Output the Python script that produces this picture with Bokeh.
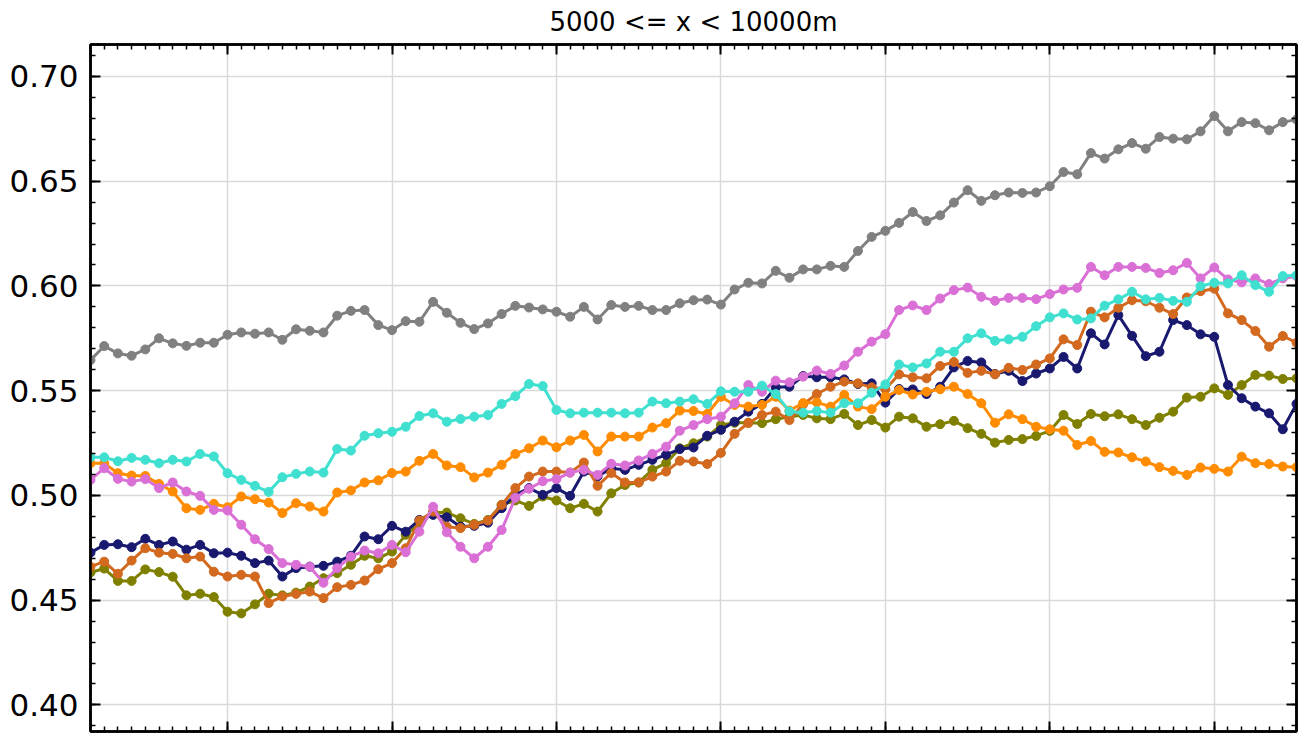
from bokeh.plotting import figure
from bokeh.models import (ColumnDataSource, Range1d, FixedTicker, LinearAxis,
                          PrintfTickFormatter, CustomLabelingPolicy)
from bokeh.embed import file_html
from bokeh.resources import INLINE

title_text = "5000 <= x < 10000m"

months = list(range(89))

gray_vals = [0.5646, 0.5713, 0.5678, 0.5667, 0.5697, 0.5750, 0.5726, 0.5714, 0.5729, 0.5729,
             0.5767, 0.5778, 0.5772, 0.5778, 0.5743, 0.5793, 0.5786, 0.5778, 0.5858, 0.5881,
             0.5885, 0.5813, 0.5789, 0.5832, 0.5829, 0.5924, 0.5872, 0.5824, 0.5794, 0.5821,
             0.5866, 0.5905, 0.5897, 0.5888, 0.5877, 0.5853, 0.5900, 0.5840, 0.5909, 0.5900,
             0.5905, 0.5885, 0.5885, 0.5917, 0.5932, 0.5935, 0.5911, 0.5983, 0.6015, 0.6012,
             0.6072, 0.6039, 0.6079, 0.6079, 0.6096, 0.6091, 0.6167, 0.6234, 0.6263, 0.6301,
             0.6353, 0.6310, 0.6337, 0.6398, 0.6457, 0.6406, 0.6433, 0.6446, 0.6444, 0.6446,
             0.6476, 0.6544, 0.6533, 0.6634, 0.6608, 0.6652, 0.6682, 0.6655, 0.6711, 0.6703,
             0.6700, 0.6738, 0.6811, 0.6738, 0.6782, 0.6777, 0.6743, 0.6782, 0.6794]

turquoise_vals = [0.5182, 0.5182, 0.5163, 0.5179, 0.5170, 0.5154, 0.5170, 0.5162, 0.5198, 0.5186,
                  0.5106, 0.5074, 0.5046, 0.5017, 0.5087, 0.5103, 0.5114, 0.5109, 0.5222, 0.5214,
                  0.5285, 0.5297, 0.5304, 0.5328, 0.5379, 0.5392, 0.5352, 0.5365, 0.5376, 0.5384,
                  0.5437, 0.5474, 0.5532, 0.5522, 0.5408, 0.5392, 0.5395, 0.5395, 0.5395, 0.5392,
                  0.5395, 0.5448, 0.5440, 0.5448, 0.5459, 0.5437, 0.5497, 0.5495, 0.5495, 0.5524,
                  0.5484, 0.5401, 0.5395, 0.5403, 0.5395, 0.5440, 0.5440, 0.5490, 0.5530, 0.5625,
                  0.5611, 0.5630, 0.5686, 0.5686, 0.5750, 0.5774, 0.5738, 0.5745, 0.5757, 0.5808,
                  0.5850, 0.5869, 0.5840, 0.5845, 0.5906, 0.5936, 0.5972, 0.5936, 0.5943, 0.5929,
                  0.5924, 0.5999, 0.6015, 0.6012, 0.6051, 0.6004, 0.5972, 0.6047, 0.6051]

orchid_vals = [0.5074, 0.5130, 0.5079, 0.5066, 0.5078, 0.5035, 0.5062, 0.5019, 0.4998, 0.4931,
               0.4928, 0.4860, 0.4791, 0.4744, 0.4677, 0.4669, 0.4660, 0.4583, 0.4653, 0.4708,
               0.4737, 0.4724, 0.4764, 0.4729, 0.4827, 0.4946, 0.4824, 0.4755, 0.4700, 0.4755,
               0.4835, 0.4989, 0.5032, 0.5068, 0.5078, 0.5109, 0.5122, 0.5098, 0.5151, 0.5143,
               0.5167, 0.5198, 0.5233, 0.5309, 0.5336, 0.5364, 0.5376, 0.5440, 0.5527, 0.5495,
               0.5548, 0.5540, 0.5567, 0.5596, 0.5580, 0.5620, 0.5686, 0.5734, 0.5770, 0.5885,
               0.5907, 0.5885, 0.5940, 0.5980, 0.5992, 0.5948, 0.5929, 0.5943, 0.5943, 0.5937,
               0.5961, 0.5983, 0.5991, 0.6091, 0.6051, 0.6091, 0.6091, 0.6086, 0.6062, 0.6075,
               0.6110, 0.6036, 0.6088, 0.6031, 0.6017, 0.6036, 0.6009, 0.6036, 0.6047]

orange_vals = [0.5154, 0.5154, 0.5106, 0.5095, 0.5093, 0.5055, 0.5019, 0.4939, 0.4931, 0.4960,
               0.4944, 0.4995, 0.4982, 0.4966, 0.4916, 0.4963, 0.4947, 0.4923, 0.5014, 0.5024,
               0.5062, 0.5072, 0.5107, 0.5114, 0.5165, 0.5198, 0.5143, 0.5135, 0.5086, 0.5109,
               0.5146, 0.5198, 0.5225, 0.5262, 0.5230, 0.5262, 0.5289, 0.5210, 0.5281, 0.5281,
               0.5281, 0.5324, 0.5345, 0.5405, 0.5403, 0.5389, 0.5471, 0.5432, 0.5424, 0.5432,
               0.5471, 0.5405, 0.5441, 0.5444, 0.5424, 0.5480, 0.5424, 0.5412, 0.5471, 0.5503,
               0.5482, 0.5495, 0.5507, 0.5519, 0.5484, 0.5440, 0.5347, 0.5387, 0.5364, 0.5328,
               0.5316, 0.5309, 0.5241, 0.5260, 0.5208, 0.5205, 0.5182, 0.5162, 0.5135, 0.5117,
               0.5098, 0.5133, 0.5127, 0.5114, 0.5185, 0.5154, 0.5150, 0.5138, 0.5135]

navy_vals = [0.4727, 0.4764, 0.4767, 0.4753, 0.4793, 0.4764, 0.4780, 0.4741, 0.4764, 0.4724,
             0.4727, 0.4712, 0.4677, 0.4689, 0.4613, 0.4653, 0.4660, 0.4664, 0.4684, 0.4712,
             0.4804, 0.4791, 0.4855, 0.4827, 0.4883, 0.4907, 0.4896, 0.4851, 0.4855, 0.4870,
             0.4939, 0.5003, 0.5035, 0.5003, 0.5035, 0.4998, 0.5114, 0.5091, 0.5130, 0.5122,
             0.5146, 0.5170, 0.5194, 0.5221, 0.5229, 0.5285, 0.5313, 0.5352, 0.5400, 0.5437,
             0.5516, 0.5519, 0.5570, 0.5564, 0.5564, 0.5554, 0.5532, 0.5535, 0.5443, 0.5508,
             0.5506, 0.5484, 0.5519, 0.5611, 0.5642, 0.5635, 0.5580, 0.5595, 0.5546, 0.5582,
             0.5606, 0.5661, 0.5606, 0.5774, 0.5721, 0.5861, 0.5762, 0.5665, 0.5686, 0.5837,
             0.5813, 0.5769, 0.5757, 0.5527, 0.5464, 0.5424, 0.5392, 0.5316, 0.5437]

chocolate_vals = [0.4660, 0.4684, 0.4626, 0.4689, 0.4748, 0.4727, 0.4721, 0.4700, 0.4708, 0.4636,
                  0.4613, 0.4621, 0.4613, 0.4486, 0.4518, 0.4530, 0.4541, 0.4510, 0.4562, 0.4573,
                  0.4594, 0.4648, 0.4677, 0.4748, 0.4880, 0.4923, 0.4851, 0.4844, 0.4860, 0.4880,
                  0.4955, 0.5035, 0.5090, 0.5114, 0.5114, 0.5109, 0.5157, 0.5046, 0.5107, 0.5062,
                  0.5062, 0.5090, 0.5114, 0.5165, 0.5162, 0.5150, 0.5203, 0.5294, 0.5346, 0.5384,
                  0.5400, 0.5360, 0.5435, 0.5484, 0.5519, 0.5543, 0.5535, 0.5516, 0.5507, 0.5578,
                  0.5564, 0.5559, 0.5618, 0.5637, 0.5585, 0.5595, 0.5578, 0.5609, 0.5599, 0.5625,
                  0.5654, 0.5745, 0.5718, 0.5877, 0.5850, 0.5896, 0.5932, 0.5927, 0.5896, 0.5866,
                  0.5945, 0.5975, 0.5987, 0.5869, 0.5837, 0.5785, 0.5710, 0.5761, 0.5729]

olive_vals = [0.4632, 0.4651, 0.4592, 0.4592, 0.4647, 0.4634, 0.4612, 0.4523, 0.4531, 0.4515,
              0.4445, 0.4437, 0.4480, 0.4531, 0.4523, 0.4536, 0.4565, 0.4605, 0.4629, 0.4669,
              0.4712, 0.4700, 0.4732, 0.4812, 0.4864, 0.4918, 0.4918, 0.4891, 0.4864, 0.4883,
              0.4955, 0.4976, 0.4950, 0.4995, 0.4976, 0.4939, 0.4960, 0.4923, 0.5010, 0.5050,
              0.5062, 0.5122, 0.5154, 0.5225, 0.5249, 0.5281, 0.5336, 0.5347, 0.5347, 0.5345,
              0.5364, 0.5376, 0.5384, 0.5368, 0.5364, 0.5389, 0.5336, 0.5360, 0.5324, 0.5376,
              0.5368, 0.5328, 0.5340, 0.5356, 0.5321, 0.5294, 0.5252, 0.5265, 0.5269, 0.5284,
              0.5308, 0.5384, 0.5341, 0.5389, 0.5378, 0.5387, 0.5364, 0.5336, 0.5371, 0.5400,
              0.5467, 0.5471, 0.5511, 0.5480, 0.5527, 0.5575, 0.5572, 0.5556, 0.5559]

x_major = [10, 22, 34, 46, 58, 70, 82]
y_major = [0.40, 0.45, 0.50, 0.55, 0.60, 0.65, 0.70]
y_minor = [round(0.38 + 0.01 * k, 2) for k in range(35)]

series = [
    (gray_vals, "#808080"),
    (olive_vals, "#808000"),
    (navy_vals, "#191970"),
    (chocolate_vals, "#D2691E"),
    (orange_vals, "#FF8C00"),
    (orchid_vals, "#DA70D6"),
    (turquoise_vals, "#40E0D0"),
]

p = figure(width=1305, height=735, output_backend="svg", toolbar_location=None,
           x_range=Range1d(0, 88), y_range=Range1d(0.38732, 0.71525),
           x_axis_location=None, y_axis_location=None,
           min_border_left=90, min_border_right=9, min_border_top=44, min_border_bottom=0)

p.title.text = title_text
p.title.align = "center"
p.title.text_font = "DejaVu Sans"
p.title.text_font_size = "26px"
p.title.text_font_style = "normal"
p.title.text_color = "black"
p.title.standoff = 7

xt = FixedTicker(ticks=x_major, minor_ticks=months)
yt = FixedTicker(ticks=y_major, minor_ticks=y_minor)


def style_axis(ax, labels):
    ax.axis_line_color = "black"
    ax.axis_line_width = 2.5
    ax.major_tick_in = 10
    ax.major_tick_out = 0
    ax.minor_tick_in = 5
    ax.minor_tick_out = 0
    ax.major_tick_line_color = "black"
    ax.major_tick_line_width = 2
    ax.minor_tick_line_color = "black"
    ax.minor_tick_line_width = 1.5
    if labels:
        ax.major_label_text_font = "DejaVu Sans"
        ax.major_label_text_font_size = "31px"
        ax.major_label_text_color = "black"
        ax.major_label_standoff = 12
    else:
        ax.major_label_text_font_size = "1px"
        ax.major_label_standoff = 0
        ax.major_label_policy = CustomLabelingPolicy(code="return []")


left = LinearAxis(ticker=yt, formatter=PrintfTickFormatter(format="%.2f"))
style_axis(left, True)
p.add_layout(left, "left")

right = LinearAxis(ticker=yt)
style_axis(right, False)
p.add_layout(right, "right")

top = LinearAxis(ticker=xt)
style_axis(top, False)
p.add_layout(top, "above")

bottom = LinearAxis(ticker=xt)
style_axis(bottom, False)
p.add_layout(bottom, "below")

p.xgrid.ticker = xt
p.ygrid.ticker = yt
p.xgrid.grid_line_color = "#d9d9d9"
p.ygrid.grid_line_color = "#d9d9d9"
p.xgrid.grid_line_width = 1.5
p.ygrid.grid_line_width = 1.5

p.outline_line_color = "black"
p.outline_line_width = 2.5
p.background_fill_color = "white"
p.border_fill_color = "white"

for vals, col in series:
    src = ColumnDataSource(dict(x=months, y=vals))
    p.line("x", "y", source=src, line_color=col, line_width=3)
    p.scatter("x", "y", source=src, size=9, fill_color=col, line_color=col)

open("out.html", "w").write(file_html(p, INLINE))
